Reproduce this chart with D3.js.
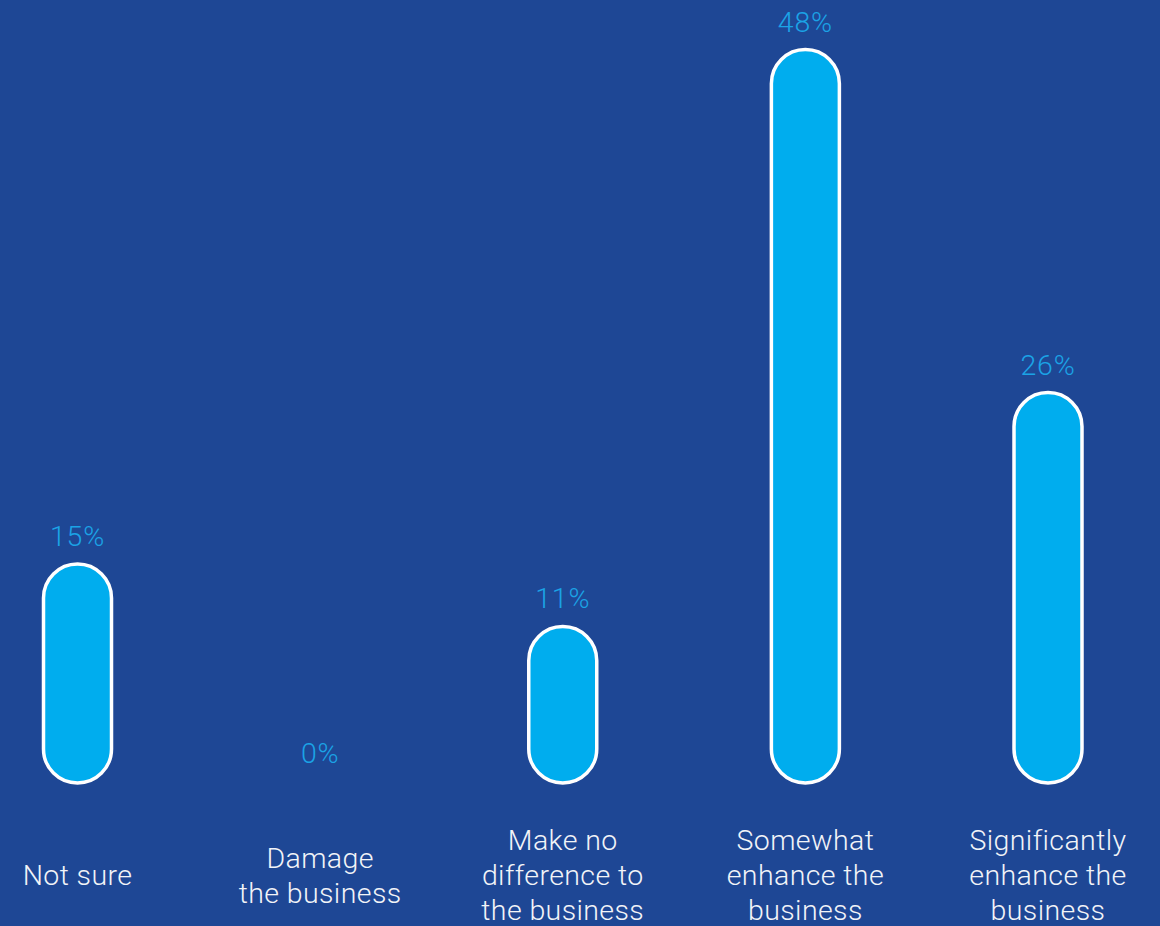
<!DOCTYPE html>
<html>
<head>
<meta charset="utf-8">
<script src="https://cdn.jsdelivr.net/npm/d3@7"></script>
<style>
  html, body { margin: 0; padding: 0; background: #1e4795; }
  svg { display: block; }
</style>
</head>
<body>
<svg id="chart" width="1160" height="926"></svg>
<script>
// Survey responses: expected effect on the business
const categories = ["Not sure", "Damage the business", "Make no difference to the business", "Somewhat enhance the business", "Significantly enhance the business"];
const categoryLines = [
  ["Not sure"],
  ["Damage", "the business"],
  ["Make no", "difference to", "the business"],
  ["Somewhat", "enhance the", "business"],
  ["Significantly", "enhance the", "business"]
];
const values = [15, 0, 11, 48, 26];
const valueLabels = ["15%", "0%", "11%", "48%", "26%"];

const W = 1160, H = 926;
const baseline = 783;      // visible bottom of the pill bars
const barW = 68;
const font = "Roboto, 'Helvetica Neue', Arial, sans-serif";

const svg = d3.select("#chart");

const x = d3.scalePoint()
  .domain(categories)
  .range([77.5, 1048]);

const y = d3.scaleLinear()
  .domain([0, 48])
  .range([798, 49.5]);

const data = categories.map((c, i) => ({ c, v: values[i], label: valueLabels[i], lines: categoryLines[i] }));

// pill-shaped bars
svg.append("g")
  .selectAll("rect")
  .data(data.filter(d => baseline - y(d.v) > 0))
  .join("rect")
  .attr("x", d => x(d.c) - barW / 2)
  .attr("y", d => y(d.v))
  .attr("width", barW)
  .attr("height", d => baseline - y(d.v))
  .attr("rx", barW / 2)
  .attr("ry", barW / 2)
  .attr("fill", "#00adee")
  .attr("stroke", "#ffffff")
  .attr("stroke-width", 3.5);

// value labels above the bars
svg.append("g")
  .selectAll("text")
  .data(data)
  .join("text")
  .attr("x", d => x(d.c))
  .attr("y", d => Math.min(y(d.v), baseline - 2) - 18)
  .attr("text-anchor", "middle")
  .attr("font-family", font)
  .attr("font-weight", 300)
  .attr("font-size", 28.5)
  .attr("letter-spacing", 0.8)
  .attr("fill", "#1ba3e6")
  .text(d => d.label);

// category labels, centred on the middle line
const lineH = 35;
const mid = 885;
const cat = svg.append("g")
  .selectAll("text")
  .data(data)
  .join("text")
  .attr("text-anchor", "middle")
  .attr("font-family", font)
  .attr("font-weight", 300)
  .attr("font-size", 28.5)
  .attr("letter-spacing", 0.4)
  .attr("fill", "#f2f4f8");

cat.each(function(d) {
  const n = d.lines.length;
  const first = mid - (n - 1) / 2 * lineH;
  d3.select(this).selectAll("tspan")
    .data(d.lines)
    .join("tspan")
    .attr("x", x(d.c))
    .attr("y", (l, i) => first + i * lineH)
    .text(l => l);
});
</script>
</body>
</html>
